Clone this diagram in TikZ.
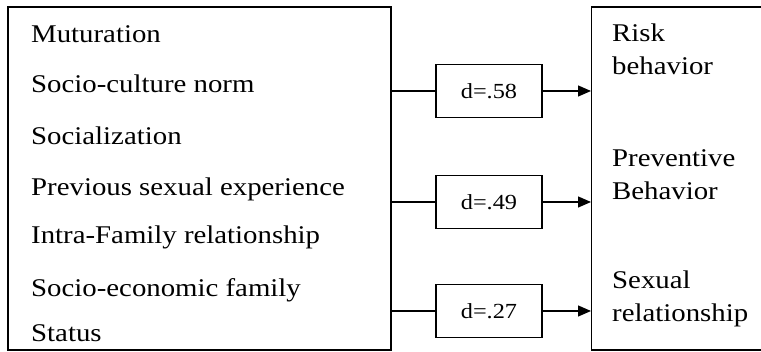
\documentclass[tikz,border=0pt]{standalone}
\usepackage{fontspec}
\setmainfont[FakeStretch=1.13]{Liberation Serif}
\usetikzlibrary{arrows.meta,positioning}
\begin{document}
\begin{tikzpicture}[x=1pt,y=1pt,
  frame/.style={draw,line width=1.3pt,inner sep=0pt},
  item/.style={anchor=base west,inner sep=0pt,font=\fontsize{25.5}{33}\selectfont},
  outcome/.style={item,align=left},
  dbox/.style={draw,line width=1.3pt,minimum width=106pt,minimum height=53pt,inner sep=0pt,font=\fontsize{21.5}{24}\selectfont},
  link/.style={line width=1.3pt},
  arrow/.style={link,-{Triangle[length=13pt,width=11pt]}}]
  \useasboundingbox (0,0) rectangle (761,352);
  \fill[white] (0,0) rectangle (761,352);
  % frames
  \node[frame,minimum width=383pt,minimum height=343pt] (lbox) at (199.5,173.5) {};
  \node[frame,minimum width=220pt,minimum height=343pt,anchor=west] (rbox) at (591,173.5) {};
  % factors
  \node[item] (f1) at (31,309) {Muturation};
  \node[item] (f2) at (31,259) {Socio-culture norm};
  \node[item] (f3) at (31,207) {Socialization};
  \node[item] (f4) at (31,156) {Previous sexual experience};
  \node[item] (f5) at (31,108) {Intra-Family relationship};
  \node[item] (f6) at (31,55) {Socio-economic family};
  \node[item] (f7) at (31,10) {Status};
  % outcomes (base = last line)
  \node[outcome] (o1) at (612,277) {Risk\\behavior};
  \node[outcome] (o2) at (612,152) {Preventive\\Behavior};
  \node[outcome] (o3) at (612,30) {Sexual\\relationship};
  % effect sizes
  \node[dbox] (d1) at (489,261) {d=.58};
  \node[dbox] (d2) at (489,150) {d=.49};
  \node[dbox] (d3) at (489,41) {d=.27};
  \foreach \d in {d1,d2,d3} {
    \draw[link] (lbox.east |- \d.west) -- (\d.west);
    \draw[arrow] (\d.east) -- (rbox.west |- \d.east);
  }
\end{tikzpicture}
\end{document}
